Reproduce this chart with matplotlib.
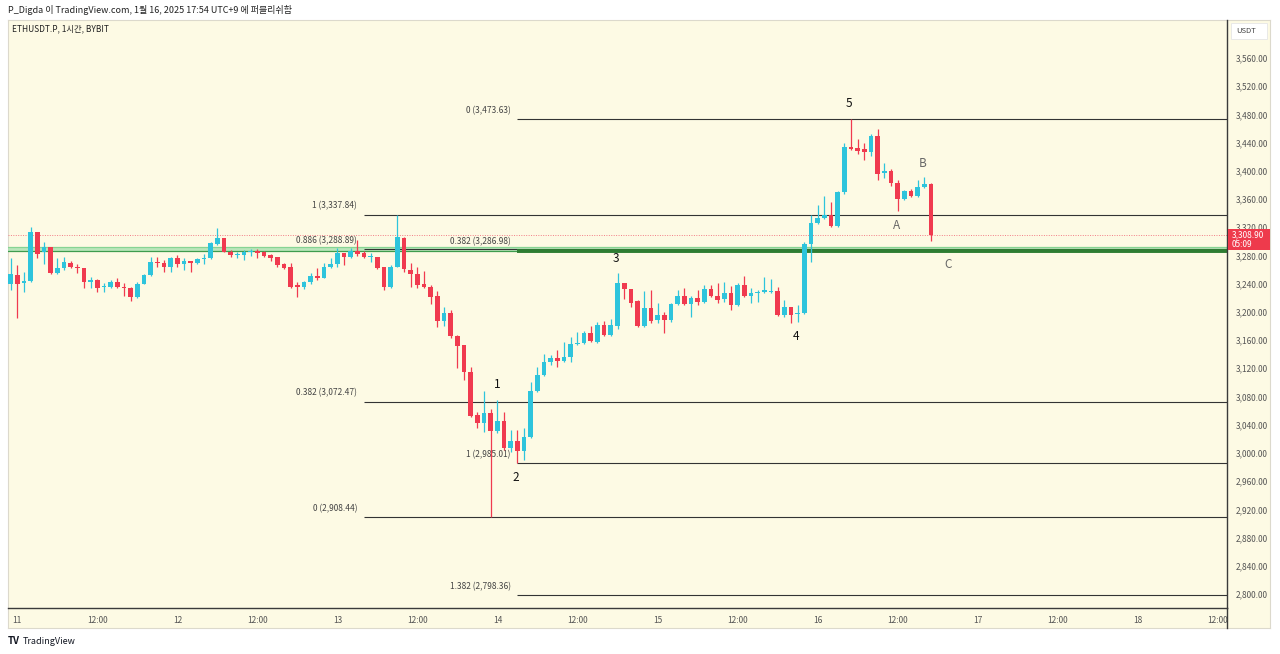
import matplotlib
matplotlib.use("Agg")
import matplotlib.pyplot as plt
from matplotlib.patches import Rectangle
from matplotlib.lines import Line2D
import numpy as np

plt.rcParams['font.family'] = ['Noto Sans CJK KR', 'DejaVu Sans']

# hourly candles, first one is 10th 23:00, last one 16th 17:00
hours = np.arange(-1, 138)

opens = [
    3239.9, 3253.0, 3240.9, 3244.0, 3313.0, 3285.4, 3292.0, 3254.7, 3262.0, 3270.0,
    3264.0, 3262.6, 3242.0, 3245.0, 3234.9, 3235.7, 3242.8, 3235.7, 3233.4, 3220.7,
    3240.0, 3252.3, 3271.2, 3269.8, 3264.1, 3276.0, 3267.5, 3272.1, 3268.9, 3274.6,
    3276.0, 3296.3, 3304.3, 3285.4, 3280.7, 3280.7, 3284.5, 3286.3, 3284.5, 3280.7,
    3277.4, 3267.5, 3264.1, 3238.1, 3234.9, 3242.0, 3250.9, 3248.5, 3264.1, 3267.5,
    3283.1, 3278.3, 3286.3, 3283.1, 3278.3, 3278.3, 3264.1, 3235.7, 3264.1, 3305.2,
    3259.4, 3253.3, 3239.5, 3235.7, 3223.0, 3187.5, 3198.9, 3165.8, 3153.1, 3115.2,
    3053.8, 3042.9, 3057.1, 3031.1, 3045.7, 3006.6, 3017.4, 3003.2, 3022.2, 3088.2,
    3110.5, 3128.5, 3135.0, 3130.8, 3135.6, 3154.5, 3155.4, 3170.5, 3157.7, 3181.4,
    3167.2, 3180.0, 3240.5, 3232.0, 3215.4, 3180.0, 3205.9, 3188.5, 3195.6, 3188.5,
    3210.8, 3222.5, 3210.8, 3220.1, 3213.6, 3232.0, 3222.5, 3217.9, 3227.2, 3209.8,
    3238.1, 3222.5, 3227.2, 3228.6, 3228.6, 3230.1, 3195.6, 3206.5, 3197.0, 3198.0,
    3296.3, 3326.5, 3332.7, 3337.4, 3321.8, 3370.4, 3433.4, 3431.9, 3431.4, 3427.1,
    3449.4, 3396.5, 3400.2, 3383.2, 3359.6, 3371.8, 3364.3, 3376.7, 3381.3]

highs = [
    3276.8, 3266.5, 3257.0, 3320.8, 3313.0, 3298.7, 3292.0, 3276.0, 3278.3, 3272.1,
    3267.5, 3262.6, 3249.9, 3246.6, 3240.5, 3245.2, 3248.5, 3240.5, 3235.7, 3242.0,
    3253.3, 3277.4, 3278.3, 3273.6, 3278.3, 3280.7, 3276.0, 3272.1, 3276.8, 3281.6,
    3299.5, 3319.4, 3304.3, 3287.7, 3284.5, 3287.7, 3289.2, 3289.2, 3285.9, 3281.6,
    3277.4, 3268.9, 3268.9, 3242.8, 3243.8, 3254.7, 3261.8, 3268.9, 3276.0, 3291.0,
    3283.1, 3290.2, 3301.9, 3286.3, 3283.1, 3278.3, 3264.1, 3266.5, 3337.84, 3306.6,
    3268.9, 3263.2, 3258.4, 3238.1, 3230.1, 3206.5, 3202.7, 3167.2, 3153.1, 3121.5,
    3058.5, 3088.2, 3062.3, 3075.0, 3058.5, 3032.5, 3032.5, 3034.9, 3101.0, 3122.3,
    3140.3, 3138.8, 3146.0, 3157.7, 3164.8, 3171.9, 3172.9, 3180.0, 3186.1, 3187.5,
    3189.5, 3254.7, 3241.4, 3232.0, 3216.9, 3230.1, 3231.0, 3213.0, 3200.2, 3212.2,
    3231.0, 3233.4, 3222.5, 3231.0, 3238.1, 3238.1, 3240.5, 3242.8, 3236.7, 3240.5,
    3250.9, 3233.4, 3231.0, 3249.0, 3246.2, 3234.9, 3216.9, 3206.5, 3209.8, 3299.5,
    3337.4, 3351.6, 3364.3, 3356.2, 3371.4, 3439.9, 3473.63, 3444.7, 3439.9, 3452.2,
    3458.9, 3411.5, 3402.2, 3387.0, 3372.8, 3373.8, 3387.0, 3390.8, 3383.2]

lows = [
    3231.0, 3190.9, 3228.6, 3242.0, 3276.4, 3267.5, 3253.3, 3253.3, 3259.4, 3261.8,
    3254.7, 3233.4, 3234.3, 3228.6, 3227.8, 3233.4, 3233.4, 3222.5, 3215.4, 3220.1,
    3239.1, 3251.3, 3264.1, 3257.0, 3256.1, 3264.1, 3259.4, 3257.0, 3267.5, 3267.5,
    3275.0, 3295.5, 3284.5, 3278.3, 3276.0, 3273.6, 3279.7, 3276.8, 3278.3, 3272.1,
    3264.1, 3260.4, 3233.4, 3221.5, 3232.5, 3240.0, 3245.2, 3247.6, 3261.8, 3264.1,
    3266.5, 3276.8, 3279.7, 3276.0, 3271.2, 3260.8, 3231.0, 3233.4, 3263.0, 3257.0,
    3235.7, 3233.4, 3233.4, 3211.2, 3178.2, 3180.0, 3162.6, 3120.0, 3103.4, 3051.4,
    3035.0, 3030.1, 2908.44, 3027.9, 3004.2, 3001.8, 2985.01, 2990.0, 3020.8, 3086.8,
    3109.1, 3124.7, 3122.3, 3129.4, 3129.4, 3153.1, 3154.5, 3157.7, 3155.4, 3165.8,
    3165.8, 3175.3, 3217.9, 3207.4, 3178.2, 3178.2, 3183.8, 3183.8, 3169.6, 3186.1,
    3209.8, 3209.8, 3192.3, 3209.8, 3212.2, 3221.1, 3212.2, 3214.4, 3202.7, 3208.4,
    3221.5, 3212.2, 3214.4, 3227.2, 3227.2, 3194.2, 3193.2, 3184.7, 3186.1, 3197.0,
    3271.2, 3324.6, 3331.3, 3320.8, 3320.4, 3367.2, 3429.5, 3423.9, 3415.4, 3421.2,
    3387.0, 3389.4, 3378.5, 3343.5, 3358.6, 3362.5, 3362.5, 3375.2, 3300.9]

closes = [
    3253.3, 3240.0, 3243.8, 3312.8, 3281.6, 3292.4, 3254.7, 3261.8, 3270.3, 3263.2,
    3261.8, 3242.0, 3245.2, 3233.4, 3237.1, 3242.8, 3234.9, 3233.4, 3220.7, 3240.0,
    3252.3, 3271.2, 3269.3, 3264.1, 3276.0, 3267.5, 3272.1, 3268.9, 3274.6, 3276.0,
    3297.3, 3304.3, 3285.4, 3280.7, 3281.6, 3285.4, 3286.3, 3283.1, 3279.7, 3276.0,
    3266.5, 3262.6, 3235.7, 3235.3, 3242.0, 3250.9, 3247.6, 3264.1, 3267.5, 3283.1,
    3278.3, 3286.3, 3281.6, 3278.3, 3279.7, 3262.6, 3235.7, 3264.1, 3306.2, 3260.4,
    3253.3, 3238.1, 3234.9, 3221.5, 3187.5, 3198.9, 3165.8, 3151.6, 3115.2, 3052.8,
    3042.9, 3057.1, 3031.1, 3045.7, 3006.6, 3017.4, 3003.2, 3022.2, 3088.2, 3110.5,
    3128.9, 3135.0, 3130.8, 3136.4, 3154.5, 3156.3, 3170.5, 3158.7, 3181.4, 3167.2,
    3181.4, 3240.5, 3232.0, 3213.0, 3180.0, 3205.9, 3187.5, 3195.6, 3188.5, 3210.8,
    3222.5, 3210.8, 3220.1, 3213.6, 3232.0, 3222.1, 3217.4, 3227.2, 3209.8, 3238.1,
    3222.5, 3227.2, 3228.6, 3231.0, 3230.1, 3195.6, 3206.5, 3195.6, 3198.9, 3296.3,
    3326.5, 3332.7, 3337.4, 3321.8, 3370.4, 3433.4, 3430.5, 3428.5, 3427.1, 3449.4,
    3395.5, 3400.2, 3382.3, 3359.6, 3371.8, 3364.3, 3376.7, 3381.3, 3308.9]

last_price = 3308.90

# fib levels: (label, price, start hour)
fib_labels = ['0 (3,473.63)', '1 (3,337.84)', '0.886 (3,288.89)', '0.382 (3,286.98)',
              '0.382 (3,072.47)', '1 (2,985.01)', '0 (2,908.44)', '1.382 (2,798.36)']
fib_prices = [3473.63, 3337.84, 3288.89, 3286.98, 3072.47, 2985.01, 2908.44, 2798.36]
fib_starts = [75, 52, 52, 75, 52, 75, 52, 75]

wave_labels = ['1', '2', '3', '4', '5', 'A', 'B', 'C']
wave_x = [71.9, 74.8, 89.8, 116.8, 124.7, 131.8, 135.7, 139.6]
wave_y = [3097.7, 2964.5, 3275.0, 3164.4, 3494.8, 3323.2, 3411.1, 3266.5]

xtick_pos = list(range(0, 181, 12))
xtick_labels = ['11', '12:00', '12', '12:00', '13', '12:00', '14', '12:00',
                '15', '12:00', '16', '12:00', '17', '12:00', '18', '12:00']
ytick_pos = list(range(2800, 3561, 40))

BG = '#fdfae4'
UP = '#2ec4dc'
DOWN = '#f03a4f'
W, H = 1280, 654

fig = plt.figure(figsize=(12.8, 6.54), dpi=100, facecolor='white')

def fx(px):
    return px / W

def fy(py):
    return 1 - py / H

# cream chart panel with thin border (behind everything)
bg_ax = fig.add_axes([fx(8), fy(628), fx(1262), 608 / H], zorder=-5)
bg_ax.set_facecolor(BG)
bg_ax.set_xticks([])
bg_ax.set_yticks([])
for sp in bg_ax.spines.values():
    sp.set_color('#dcd9cc')
    sp.set_linewidth(0.8)

ax = fig.add_axes([fx(8), fy(608), fx(1219), 588 / H])
ax.set_facecolor('none')
ax.set_xlim(-1.4, 181.4)
ax.set_ylim(2780.1, 3613.9)

# green zone
ax.axhspan(3286.3, 3292.6, color='#a9e2b0', alpha=0.8, lw=0, zorder=1)
ax.axhline(3292.6, color='#86d493', lw=0.9, zorder=1)
ax.axhline(3286.6, color='#3e9c4e', lw=0.9, zorder=1)

# current price dotted line
ax.axhline(last_price, color='#f27c86', lw=0.7, ls=(0, (1, 1.5)), zorder=1)

# fib lines and labels
for lab, p, s in zip(fib_labels, fib_prices, fib_starts):
    if lab.startswith('0.382 (3,286'):
        ax.hlines(p, s, 181.4, color='#2e7d32', lw=2.8, zorder=2)
    else:
        ax.hlines(p, s, 181.4, color='#333333', lw=0.8, zorder=2)
    ax.annotate(lab, (s, p), xytext=(-5, 3), textcoords='offset points',
                ha='right', va='bottom', fontsize=6, color='#444444')

# candles
o = np.array(opens)
c = np.array(closes)
hi = np.array(highs)
lo = np.array(lows)
cols = np.where(c >= o, UP, DOWN)
ax.vlines(hours, lo, hi, colors=cols, lw=0.9, zorder=3)
body_h = np.maximum(np.abs(c - o), 1.2)
ax.bar(hours, body_h, bottom=np.minimum(o, c), width=0.7, color=cols, lw=0, zorder=4)

# elliott wave labels
for t, x, y in zip(wave_labels, wave_x, wave_y):
    ax.text(x, y, t, ha='center', va='center', fontsize=8.5,
            color='#111111' if t.isdigit() else '#666666', zorder=5)

# axes styling
for side in ['left', 'top']:
    ax.spines[side].set_visible(False)
ax.spines['bottom'].set_color('#3a3a3a')
ax.spines['right'].set_color('#3a3a3a')
ax.spines['bottom'].set_linewidth(1.0)
ax.spines['right'].set_linewidth(1.0)

ax.set_xticks(xtick_pos)
ax.set_xticklabels(xtick_labels)
ax.tick_params(axis='x', length=0, pad=6, labelsize=6, labelcolor='#555555')
ax.yaxis.tick_right()
ax.set_yticks(ytick_pos)
ax.set_yticklabels([f'{v:,.2f}' for v in ytick_pos])
ax.tick_params(axis='y', length=0, pad=6, labelsize=6, labelcolor='#555555')

# right axis line continues down through the time axis
fig.add_artist(Line2D([fx(1227), fx(1227)], [fy(608), fy(628)], color='#3a3a3a', lw=1.0))

# USDT box
fig.add_artist(Rectangle((fx(1231), fy(39)), fx(36), 16 / H, transform=fig.transFigure,
                         facecolor='white', edgecolor='#e6e6e6', lw=0.6, zorder=5))
fig.text(fx(1246), fy(31), 'USDT', fontsize=5.5, color='#444444', ha='center', va='center', zorder=6)

# last price tag
fig.add_artist(Rectangle((fx(1228), fy(250)), fx(42), 21 / H, transform=fig.transFigure,
                         facecolor='#ee3a4c', edgecolor='none', zorder=5))
fig.text(fx(1232), fy(235), f'{last_price:,.2f}', fontsize=6, color='white', va='center', zorder=6)
fig.text(fx(1232), fy(244), '05:09', fontsize=6, color='white', va='center', zorder=6)

# header texts
fig.text(fx(8), fy(10), 'P_Digda 이 TradingView.com, 1월 16, 2025 17:54 UTC+9 에 퍼블리쉬함',
         fontsize=6.5, color='#222222', va='center')
fig.text(fx(12), fy(29), 'ETHUSDT.P, 1시간, BYBIT', fontsize=6, color='#222222', va='center')

# footer logo
fig.text(fx(8), fy(641), 'TV', fontsize=7, fontweight='bold', color='#131722', va='center')
fig.text(fx(23), fy(641), 'TradingView', fontsize=6.5, color='#131722', va='center')

fig.savefig('out.png', dpi=100, facecolor='white')
